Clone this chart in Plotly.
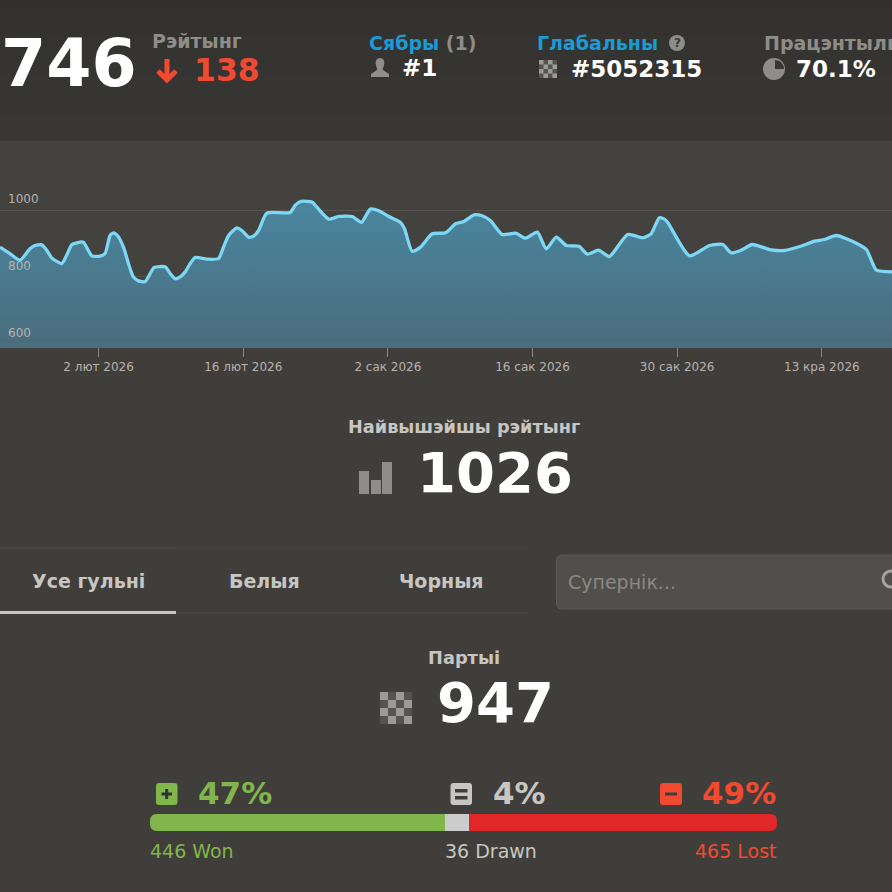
import pandas as pd
import plotly.graph_objects as go

# Rating history: days after 23 Jan 2026 and the rating at that point
days = [
    0.46, 1.42, 2.39, 3.36, 3.85, 4.49, 4.98, 5.46, 6.43, 6.91, 7.40, 7.88, 8.53, 8.92, 9.34,
    10.14, 10.63, 11.11, 11.44, 11.82, 12.41, 12.89, 13.37, 13.86, 14.51, 14.99, 15.38, 16.44,
    16.93, 17.41, 17.90, 18.38, 18.87, 19.35, 20.48, 21.61, 22.09, 22.58, 23.39, 23.87, 24.52,
    25.00, 25.49, 26.29, 28.55, 29.04, 29.60, 30.66, 31.15, 32.28, 33.24, 34.54, 35.44, 35.83,
    36.31, 37.12, 38.09, 39.22, 39.61, 40.35, 41.16, 42.29, 43.58, 44.55, 45.36, 46.33, 47.13,
    47.94, 49.07, 50.36, 51.33, 52.46, 53.33, 54.30, 55.27, 56.50, 57.31, 58.40, 59.43, 61.21,
    62.67, 63.47, 64.28, 64.76, 65.09, 67.19, 69.13, 70.42, 71.22, 72.19, 73.26, 74.94, 76.39,
    78.17, 79.30, 80.27, 81.40, 83.34, 84.31, 84.79, 85.28, 86.89,
]
rating = [
    889, 870, 850, 884, 894, 896, 880, 857, 840, 865, 896, 902, 904, 884, 863,
    862, 870, 924, 932, 924, 889, 840, 800, 788, 786, 810, 828, 830,
    810, 794, 800, 815, 840, 858, 853, 855, 889, 924, 947, 939, 919,
    922, 939, 991, 993, 1015, 1026, 1024, 1008, 973, 981, 981, 963, 981,
    1003, 998, 981, 963, 944, 877, 889, 929, 932, 959, 966, 986, 983,
    968, 927, 931, 916, 934, 884, 919, 894, 892, 868, 880, 861, 927,
    917, 929, 977, 973, 963, 863, 894, 897, 872, 880, 897, 882, 879,
    894, 907, 912, 924, 901, 882, 850, 820, 815,
]
dates = pd.Timestamp("2026-01-23") + pd.to_timedelta(days, unit="D")
baseline = [590] * len(rating)

tick_dates = ["2026-02-02", "2026-02-16", "2026-03-02", "2026-03-16", "2026-03-30", "2026-04-13"]
tick_labels = ["2 лют 2026", "16 лют 2026", "2 сак 2026", "16 сак 2026", "30 сак 2026", "13 кра 2026"]
y_ticks = [600, 800, 1000]

# Games split
result_names = ["Won", "Drawn", "Lost"]
result_counts = [446, 36, 465]
result_colors = ["#81b64c", "#cccccc", "#e02828"]

PAGE = "#403e3a"
FONT = "DejaVu Sans"
GREY = "#8f8d89"
RED = "#f04a31"
GREEN = "#81b64c"
LIGHT = "#c8c6c2"
BLUE = "#1b9ad6"

fig = go.Figure()

# invisible base for the area, so the gradient runs over the visible band only
fig.add_trace(go.Scatter(x=dates, y=baseline, mode="lines", line=dict(width=0), hoverinfo="skip"))
fig.add_trace(go.Scatter(
    x=dates, y=rating, mode="lines", fill="tonexty",
    line=dict(color="#7dd8f5", width=3.3, shape="spline", smoothing=0.6),
    fillgradient=dict(
        type="vertical",
        colorscale=[[0, "rgba(76,116,136,0.85)"], [1, "rgba(74,146,176,0.85)"]],
    ),
))

for name, count, color in zip(result_names, result_counts, result_colors):
    fig.add_trace(go.Bar(
        x=[count], y=["games"], orientation="h", name=name,
        marker=dict(color=color, line=dict(width=0)),
        xaxis="x2", yaxis="y2",
    ))

# pixel overlay for the page furniture around the charts
fig.add_trace(go.Scatter(x=[None], y=[None], xaxis="x3", yaxis="y3", hoverinfo="skip"))

shapes = []
texts = []


def band(y0, y1, color):
    # paper refs so these sit under every subplot
    shapes.append(dict(type="rect", xref="paper", yref="paper", x0=0, x1=1, y0=1 - y1 / 892, y1=1 - y0 / 892,
                       fillcolor=color, line=dict(width=0), layer="below"))


def rect(x0, y0, x1, y1, color):
    shapes.append(dict(type="rect", xref="x3", yref="y3", x0=x0, y0=y0, x1=x1, y1=y1,
                       fillcolor=color, line=dict(width=0)))


def line(x0, y0, x1, y1, color, width=1):
    shapes.append(dict(type="line", xref="x3", yref="y3", x0=x0, y0=y0, x1=x1, y1=y1,
                       line=dict(color=color, width=width)))


def svg(path, color, outline=None, width=0):
    shapes.append(dict(type="path", xref="x3", yref="y3", path=path, fillcolor=color,
                       line=dict(color=outline or color, width=width)))


def rounded(x0, y0, x1, y1, r):
    return (f"M{x0+r},{y0} L{x1-r},{y0} Q{x1},{y0} {x1},{y0+r} L{x1},{y1-r} Q{x1},{y1} {x1-r},{y1} "
            f"L{x0+r},{y1} Q{x0},{y1} {x0},{y1-r} L{x0},{y0+r} Q{x0},{y0} {x0+r},{y0} Z")


def text(x, y, s, size, color, bold=True, anchor="left"):
    if bold:
        s = f"<b>{s}</b>"
    texts.append(dict(xref="x3", yref="y3", x=x, y=y, text=s, showarrow=False, xanchor=anchor,
                      yanchor="middle", borderpad=0, font=dict(family=FONT, size=size, color=color)))


def checker(x0, y0, size, n):
    rect(x0, y0, x0 + size, y0 + size, "#9d9b97")
    cell = size / n
    for i in range(n):
        for j in range(n):
            if (i + j) % 2:
                rect(x0 + i * cell, y0 + j * cell, x0 + (i + 1) * cell, y0 + (j + 1) * cell, "#55534f")


# backgrounds
for i in range(0, 141, 5):
    k = i / 140
    c = [round(a + (b - a) * k) for a, b in zip((50, 49, 46), (57, 56, 53))]
    band(i, i + 5, f"rgb({c[0]},{c[1]},{c[2]})")
band(141, 347, "#44423e")

# header
text(0, 63, "746", 65, "#ffffff")
text(151, 41, "Рэйтынг", 19, GREY)
svg("M167,59 L167,80 M158,71 L167,80 L176,71", "rgba(0,0,0,0)", RED, 5)
text(193, 70, "138", 31.5, RED)

texts.append(dict(xref="x3", yref="y3", x=366.5, y=43, showarrow=False, xanchor="left", yanchor="middle",
                  text=f"<b><span style='color:{BLUE}'>Сябры</span> (1)</b>",
                  font=dict(family=FONT, size=19, color=GREY)))
svg("M380,58 C376,58 375,62 376,65 C376,67 378,69 377,70 L371,74 L371,77 L389,77 L389,74 L383,70 "
    "C382,69 384,67 384,65 C385,62 384,58 380,58 Z", GREY)
text(401, 68, "#1", 23, "#ffffff")

text(536, 43, "Глабальны", 19, BLUE)
shapes.append(dict(type="circle", xref="x3", yref="y3", x0=669, y0=35, x1=685, y1=51,
                   fillcolor=GREY, line=dict(width=0)))
text(677, 43, "?", 12, "#383734", anchor="center")
checker(539, 60, 18, 4)
text(570, 69, "#5052315", 23, "#ffffff")

text(762.5, 43, "Працэнтыль", 19, GREY)
shapes.append(dict(type="circle", xref="x3", yref="y3", x0=763, y0=58, x1=785, y1=80,
                   fillcolor=GREY, line=dict(width=0)))
svg("M775,60 L775,69 L784,69 C784,64 780,60 775,60 Z", "#383734")
text(795, 69, "70.1%", 23, "#ffffff")

# best rating
text(464, 427, "Найвышэйшы рэйтынг", 17.7, LIGHT, anchor="center")
rect(359, 471, 369, 494, GREY)
rect(371, 480, 381, 494, GREY)
rect(382, 462, 392, 494, GREY)
text(495, 472, "1026", 56, "#ffffff", anchor="center")

# tabs and search box
line(0, 548, 176, 548, "#55534f")
line(176, 548, 528, 548, "#474541")
line(176, 613, 528, 613, "#4c4a46")
line(0, 612.5, 176, 612.5, LIGHT, 3)
text(88, 581, "Усе гульні", 19, LIGHT, anchor="center")
text(264, 581, "Белыя", 19, LIGHT, anchor="center")
text(441, 581, "Чорныя", 19, LIGHT, anchor="center")
svg(rounded(556.5, 555, 910, 609, 6), "#514f4b", "#5c5a56", 1)
text(567, 582, "Супернік...", 19, "#8a8884", bold=False)
shapes.append(dict(type="circle", xref="x3", yref="y3", x0=883, y0=571, x1=899, y1=587,
                   fillcolor="rgba(0,0,0,0)", line=dict(color="#a5a3a0", width=3)))

# games
text(463.5, 657, "Партыі", 17.8, LIGHT, anchor="center")
checker(380, 692, 32, 4)
text(495, 702, "947", 56, "#ffffff", anchor="center")

# rounded ends of the result bar: plotly only rounds the far end of a stack
for cx, cy, dx, dy in [(150, 814, 1, 1), (150, 831, 1, -1), (777, 814, -1, 1), (777, 831, -1, -1)]:
    svg(f"M{cx},{cy} L{cx + 7 * dx},{cy} Q{cx},{cy} {cx},{cy + 7 * dy} Z", PAGE)

# result percentages
svg(rounded(156, 783, 177.5, 805, 3), GREEN)
svg("M166.7,789 L166.7,799 M161.5,794 L172,794", "rgba(0,0,0,0)", "#33322f", 3)
text(197, 793, "47%", 31, GREEN)
svg(rounded(450.5, 783, 472, 805, 3), LIGHT)
rect(455, 789, 467.5, 792.5, PAGE)
rect(455, 796, 467.5, 799.5, PAGE)
text(492, 793, "4%", 31, LIGHT)
svg(rounded(660, 783, 682, 805, 3), RED)
rect(665, 792.5, 677, 795.5, PAGE)
text(777, 793, "49%", 31, RED, anchor="right")

text(149, 851, f"{result_counts[0]} {result_names[0]}", 19, GREEN, bold=False)
text(444, 851, f"{result_counts[1]} {result_names[1]}", 19, LIGHT, bold=False)
text(778, 851, f"{result_counts[2]} {result_names[2]}", 19, RED, bold=False, anchor="right")

fig.update_layout(
    width=892, height=892, margin=dict(l=0, r=0, t=0, b=0),
    paper_bgcolor=PAGE, plot_bgcolor="rgba(0,0,0,0)", showlegend=False,
    barmode="stack", bargap=0,
    shapes=shapes, annotations=texts,
    xaxis=dict(
        domain=[0, 1], range=["2026-01-23 11:00", "2026-04-19 19:00"],
        tickvals=tick_dates, ticktext=tick_labels, ticks="outside", ticklen=9, tickwidth=1,
        tickcolor="#8a8884", tickfont=dict(family=FONT, size=12, color="#b5b3af"),
        showgrid=False, zeroline=False, showline=True, linecolor="#666460", linewidth=1,
    ),
    yaxis=dict(
        domain=[1 - 347 / 892, 1 - 141 / 892], range=[590, 1207],
        tickvals=y_ticks, ticks="", ticklabelposition="inside", ticklabelshift=-11, ticklabelstandoff=5,
        tickfont=dict(family=FONT, size=12, color="#b5b3af"),
        gridcolor="#55534f", gridwidth=1, zeroline=False,
    ),
    xaxis2=dict(domain=[150 / 892, 777 / 892], range=[0, sum(result_counts)], anchor="y2", visible=False),
    yaxis2=dict(domain=[1 - 831 / 892, 1 - 814 / 892], anchor="x2", visible=False),
    xaxis3=dict(domain=[0, 1], range=[0, 892], anchor="y3", visible=False),
    yaxis3=dict(domain=[0, 1], range=[892, 0], anchor="x3", visible=False),
)

fig.write_html("out.html", config=dict(displayModeBar=False),
               post_script="document.body.style.margin='0';document.body.style.overflow='hidden';")
